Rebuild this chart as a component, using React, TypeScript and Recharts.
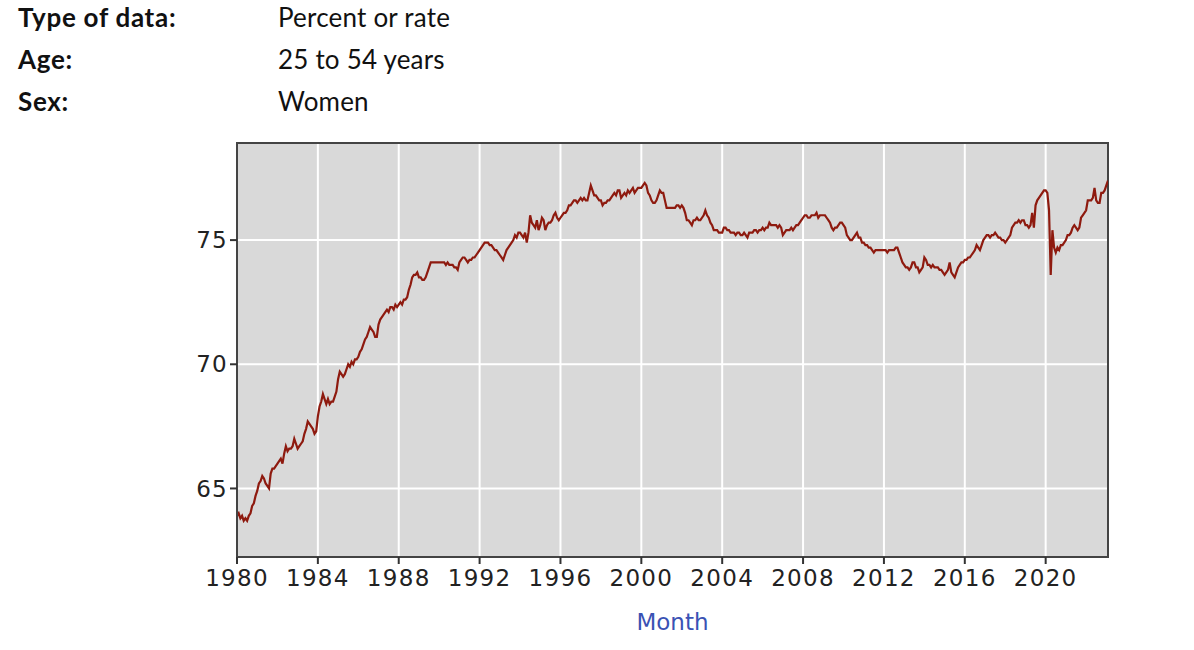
import { LineChart, Line, XAxis, YAxis, CartesianGrid, ReferenceArea } from "recharts";

// Labour force participation rate, women 25 to 54, monthly from Jan 1980
const rates1980s = [
  63.9, 64.0, 63.8, 63.9, 63.7, 63.8, 63.7, 63.9, 64.0, 64.3, 64.4, 64.7,
  64.9, 65.2, 65.3, 65.5, 65.4, 65.2, 65.1, 65.0, 65.6, 65.8, 65.8, 65.9,
  66.0, 66.1, 66.2, 66.0, 66.4, 66.7, 66.5, 66.6, 66.6, 66.7, 67.0, 66.8,
  66.6, 66.7, 66.8, 66.9, 67.2, 67.4, 67.7, 67.6, 67.5, 67.4, 67.2, 67.3,
  67.9, 68.3, 68.5, 68.8, 68.6, 68.4, 68.6, 68.4, 68.5, 68.5, 68.7, 68.9,
  69.4, 69.7, 69.6, 69.5, 69.6, 69.8, 70.0, 69.9, 70.1, 70.0, 70.2, 70.2,
  70.3, 70.5, 70.6, 70.8, 71.0, 71.1, 71.3, 71.5, 71.4, 71.3, 71.1, 71.1,
  71.6, 71.8, 71.9, 72.0, 72.1, 72.2, 72.1, 72.3, 72.3, 72.2, 72.4, 72.3,
  72.4, 72.5, 72.4, 72.6, 72.6, 72.7, 73.0, 73.2, 73.5, 73.6, 73.6, 73.7,
  73.5, 73.5, 73.4, 73.4, 73.5, 73.7, 73.9, 74.1, 74.1, 74.1, 74.1, 74.1,
];

const rates1990s = [
  74.1, 74.1, 74.1, 74.1, 74.0, 74.1, 74.0, 74.0, 74.0, 73.9, 73.9, 73.8,
  74.1, 74.2, 74.3, 74.3, 74.2, 74.1, 74.2, 74.2, 74.3, 74.3, 74.4, 74.5,
  74.6, 74.7, 74.8, 74.9, 74.9, 74.9, 74.8, 74.8, 74.7, 74.6, 74.6, 74.5,
  74.4, 74.3, 74.2, 74.4, 74.6, 74.7, 74.8, 74.9, 75.0, 75.2, 75.1, 75.3,
  75.3, 75.2, 75.1, 75.3, 74.9, 75.3, 76.0, 75.7, 75.6, 75.5, 75.8, 75.4,
  75.6, 75.9, 75.8, 75.4, 75.6, 75.7, 75.7, 75.8, 76.0, 76.1, 75.9, 75.8,
  75.9, 76.0, 76.1, 76.1, 76.2, 76.4, 76.4, 76.5, 76.6, 76.6, 76.5, 76.6,
  76.7, 76.6, 76.7, 76.6, 76.6, 76.9, 77.2, 77.0, 76.8, 76.8, 76.7, 76.6,
  76.6, 76.4, 76.5, 76.5, 76.6, 76.6, 76.7, 76.8, 76.9, 76.8, 77.0, 77.0,
  76.7, 76.8, 76.9, 76.8, 77.0, 76.9, 77.0, 77.1, 76.9, 77.0, 77.1, 77.1,
];

const rates2000s = [
  77.1, 77.2, 77.3, 77.2, 76.9, 76.8, 76.6, 76.5, 76.5, 76.6, 76.8, 77.0,
  76.9, 76.9, 76.6, 76.3, 76.3, 76.3, 76.3, 76.3, 76.3, 76.4, 76.4, 76.3,
  76.4, 76.3, 76.1, 75.8, 75.8, 75.7, 75.6, 75.8, 75.8, 75.9, 75.8, 75.8,
  75.9, 76.0, 76.2, 76.0, 75.9, 75.7, 75.6, 75.4, 75.4, 75.4, 75.3, 75.3,
  75.3, 75.5, 75.5, 75.4, 75.4, 75.3, 75.3, 75.3, 75.2, 75.3, 75.3, 75.2,
  75.2, 75.3, 75.2, 75.1, 75.3, 75.3, 75.3, 75.4, 75.4, 75.3, 75.4, 75.4,
  75.5, 75.4, 75.5, 75.5, 75.7, 75.6, 75.6, 75.6, 75.6, 75.5, 75.6, 75.5,
  75.2, 75.3, 75.4, 75.4, 75.4, 75.5, 75.4, 75.5, 75.6, 75.6, 75.7, 75.8,
  75.9, 76.0, 76.0, 75.9, 75.9, 76.0, 76.0, 76.0, 76.1, 75.9, 76.0, 76.0,
  76.0, 76.0, 75.9, 75.8, 75.7, 75.5, 75.4, 75.5, 75.5, 75.6, 75.7, 75.7,
];

const rates2010s = [
  75.6, 75.5, 75.2, 75.1, 75.0, 75.0, 75.1, 75.2, 75.3, 75.1, 75.1, 74.9,
  74.9, 74.8, 74.8, 74.7, 74.7, 74.6, 74.5, 74.6, 74.6, 74.6, 74.6, 74.6,
  74.6, 74.6, 74.5, 74.6, 74.6, 74.6, 74.6, 74.7, 74.7, 74.5, 74.3, 74.1,
  74.0, 73.9, 73.9, 73.8, 73.9, 74.1, 74.1, 73.9, 73.9, 73.7, 73.8, 73.9,
  74.3, 74.2, 74.0, 74.0, 73.9, 74.0, 73.9, 73.9, 73.9, 73.8, 73.8, 73.7,
  73.6, 73.7, 73.8, 74.1, 73.7, 73.6, 73.5, 73.7, 73.9, 74.0, 74.1, 74.1,
  74.2, 74.2, 74.3, 74.3, 74.4, 74.5, 74.6, 74.8, 74.7, 74.6, 74.8, 75.0,
  75.1, 75.2, 75.2, 75.1, 75.2, 75.2, 75.3, 75.2, 75.1, 75.1, 75.0, 75.0,
  74.9, 75.0, 75.1, 75.2, 75.5, 75.6, 75.7, 75.7, 75.8, 75.7, 75.8, 75.8,
  75.6, 75.6, 75.5, 75.6, 76.1, 75.5, 76.4, 76.6, 76.7, 76.8, 76.9, 77.0,
];

const rates2020s = [
  77.0, 76.9, 76.2, 73.6, 75.4, 74.7, 74.5, 74.7, 74.6, 74.8, 74.8, 74.9,
  75.0, 75.2, 75.2, 75.3, 75.5, 75.6, 75.5, 75.4, 75.5, 75.9, 76.0, 76.1,
  76.2, 76.6, 76.6, 76.6, 76.7, 77.1, 76.6, 76.5, 76.5, 76.9, 76.9, 77.0,
  77.2, 77.4,
];

const xTicks = [1980, 1984, 1988, 1992, 1996, 2000, 2004, 2008, 2012, 2016, 2020];
const yTicks = [65, 70, 75];

const headerRows = [
  ["Type of data:", "Percent or rate"],
  ["Age:", "25 to 54 years"],
  ["Sex:", "Women"],
];

const allRates = [...rates1980s, ...rates1990s, ...rates2000s, ...rates2010s, ...rates2020s];
const data = allRates.map((rate, i) => ({ t: 1980 + i / 12, rate }));
const lastT = data[data.length - 1].t;
const yMin = 62.24;
const yMax = 78.91;

const tickFont = { fontFamily: "DejaVu Sans", fontSize: 23, fill: "#222", letterSpacing: 1.3 };

export default function App() {
  return (
    <div style={{ position: "absolute", left: 0, top: 0, width: 1194, height: 650, background: "#fff" }}>
      {headerRows.map(([k, v], i) => (
        <div key={k} style={{ position: "absolute", top: 1 + i * 42, left: 18, fontFamily: "Lato", fontSize: 26, color: "#111", whiteSpace: "nowrap" }}>
          <span style={{ fontWeight: 700, letterSpacing: 0.7 }}>{k}</span>
          <span style={{ position: "absolute", left: 260, letterSpacing: 0.2 }}>{v}</span>
        </div>
      ))}
      <LineChart
        width={1194}
        height={650}
        data={data}
        margin={{ top: 143, right: 86, left: 197, bottom: 63 }}
        style={{ position: "absolute", left: 0, top: 0 }}
      >
        <CartesianGrid fill="#d9d9d9" stroke="#fff" strokeWidth={2} strokeOpacity={1} horizontalValues={yTicks} verticalValues={xTicks} />
        <XAxis
          dataKey="t"
          type="number"
          domain={[1980, lastT]}
          ticks={xTicks}
          allowDataOverflow
          height={30}
          tickSize={7}
          tickMargin={6}
          tick={tickFont}
          tickLine={{ stroke: "#333", strokeWidth: 2 }}
          axisLine={{ stroke: "#444", strokeWidth: 2 }}
          label={{ value: "Month", position: "bottom", offset: 27, fill: "#3a52b4", fontFamily: "DejaVu Sans", fontSize: 23 }}
        />
        <YAxis
          type="number"
          domain={[yMin, yMax]}
          ticks={yTicks}
          allowDataOverflow
          width={40}
          tickSize={7}
          tickMargin={2}
          tick={tickFont}
          tickLine={{ stroke: "#333", strokeWidth: 2 }}
          axisLine={{ stroke: "#444", strokeWidth: 2 }}
        />
        <ReferenceArea x1={1980} x2={lastT} y1={yMin} y2={yMax} fill="none" stroke="#444" strokeWidth={2} />
        <Line
          type="linear"
          dataKey="rate"
          stroke="#8e1a0f"
          strokeWidth={2.2}
          dot={false}
          isAnimationActive={false}
        />
      </LineChart>
    </div>
  );
}
